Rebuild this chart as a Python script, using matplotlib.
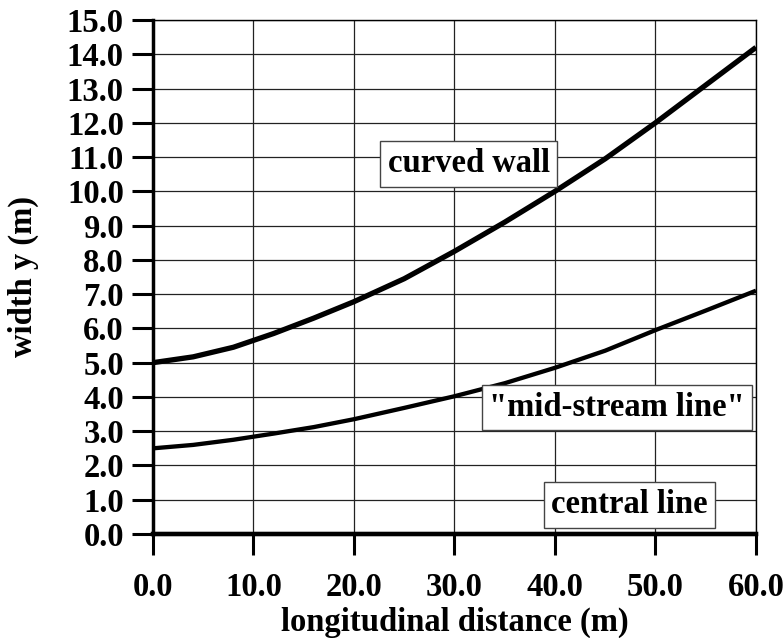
import matplotlib
matplotlib.use("Agg")
import matplotlib.pyplot as plt

# values
x_dist = [0, 4, 8, 12, 16, 20, 25, 30, 35, 40, 45, 50, 55, 60]
curved_wall = [5.0, 5.17, 5.45, 5.85, 6.3, 6.78, 7.45, 8.25, 9.1, 10.0, 10.95, 12.0, 13.1, 14.2]
mid_stream = [2.5, 2.6, 2.75, 2.93, 3.12, 3.35, 3.68, 4.02, 4.4, 4.85, 5.35, 5.95, 6.52, 7.1]
central = [0.0] * len(x_dist)

x_ticks = [0, 10, 20, 30, 40, 50, 60]
y_ticks = list(range(0, 16))

plt.rcParams["font.family"] = ["Liberation Serif", "DejaVu Serif"]
plt.rcParams["font.weight"] = "bold"

fs = 23.5

fig = plt.figure(figsize=(7.83, 6.38), dpi=100)
ax = fig.add_axes([0.1954, 0.163, 0.7701, 0.8057])

ax.plot(x_dist, curved_wall, color="black", lw=3.8, solid_capstyle="butt", zorder=3)
ax.plot(x_dist, mid_stream, color="black", lw=3.1, solid_capstyle="butt", zorder=3)
ax.plot(x_dist, central, color="black", lw=3.2, clip_on=False, zorder=4)

ax.set_xlim(0, 60)
ax.set_ylim(0, 15)
ax.set_xticks(x_ticks)
ax.set_yticks(y_ticks)
ax.set_xticklabels([f"{v:.1f}" for v in x_ticks])
ax.set_yticklabels([f"{v:.1f}" for v in y_ticks])

ax.grid(True, color="#222222", lw=0.9)
ax.set_axisbelow(True)

ax.spines["left"].set_linewidth(2.5)
ax.spines["bottom"].set_linewidth(3.0)
ax.spines["top"].set_linewidth(1.0)
ax.spines["right"].set_linewidth(1.0)

ax.tick_params(axis="y", direction="out", length=15, width=2.2, pad=6, labelsize=fs)
ax.tick_params(axis="x", direction="out", length=15, width=2.2, pad=12, labelsize=fs)

ax.set_xlabel("longitudinal distance (m)", fontsize=fs, fontweight="bold", labelpad=3)
ax.set_ylabel("width y (m)", fontsize=fs, fontweight="bold", labelpad=20)

box = dict(boxstyle="square,pad=0.22", facecolor="white", edgecolor="#444444", lw=1.0)
ax.text(31.4, 10.8, "curved wall", fontsize=fs, fontweight="bold", ha="center", va="center", bbox=box, zorder=5)
ax.text(46.2, 3.7, "\"mid-stream line\"", fontsize=fs, fontweight="bold", ha="center", va="center", bbox=box, zorder=5)
ax.text(47.4, 0.85, "central line", fontsize=fs, fontweight="bold", ha="center", va="center", bbox=box, zorder=5)

fig.savefig("out.png", dpi=100)
